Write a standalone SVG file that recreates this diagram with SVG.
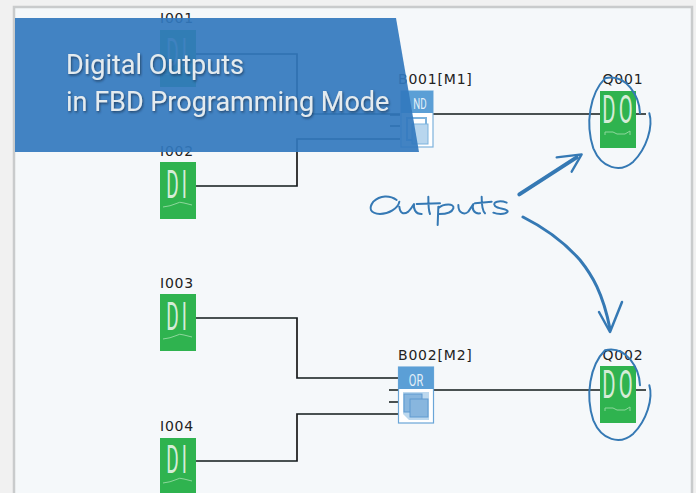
<svg xmlns="http://www.w3.org/2000/svg" width="696" height="493" viewBox="0 0 696 493">
<defs>
<filter id="sh" x="-5%" y="-20%" width="110%" height="140%"><feDropShadow dx="1" dy="1.5" stdDeviation="0.8" flood-color="#1c3350" flood-opacity="0.75"/></filter>
<filter id="soft" x="-5%" y="-5%" width="110%" height="110%"><feGaussianBlur stdDeviation="0.35"/></filter>
<g id="wave"><path d="M-14 45 q8 -1 12 -3 q5 -3 9 -1 q4 1 8 2" fill="none" stroke="#8ed79c" stroke-width="1"/></g>
<path id="loop" d="M840 160C838 110 800 40 735 55C690 100 675 190 700 265C725 325 780 340 820 305C860 265 880 200 868 160"/>
</defs>
<style>
.lbl{font-family:"DejaVu Sans",sans-serif;font-size:14px;letter-spacing:.8px;fill:#222;text-anchor:middle}
.big{font-family:"Roboto",sans-serif;font-weight:400;fill:#d6ecd8;text-anchor:middle;letter-spacing:6px}
.wire{fill:none;stroke:#14171a;stroke-width:1.7}
.green{fill:#2fb34f}
.ink{fill:none;stroke:#3579b4;stroke-linecap:round;stroke-linejoin:round}
.title{font-family:"Roboto",sans-serif;font-weight:400;font-size:27px;fill:#e4ebef}
.blk{fill:#5b9fd6}
</style>
<rect width="696" height="493" fill="#f1f1f1"/>
<rect x="14" y="7" width="678" height="490" fill="#f5f8fa" stroke="#c9cbcc" stroke-width="2.500"/>
<g id="connectors" filter="url(#soft)">
<path class="wire" d="M195 54H297V114H400"/>
<path class="wire" d="M195 186H297V139H400"/>
<path class="wire" d="M390 115H400M390 126H400"/>
<path class="wire" d="M433 114H600M636 114H646"/>
<path class="wire" d="M195 318H297V378H398"/>
<path class="wire" d="M195 461H297V414H398"/>
<path class="wire" d="M389 390H398M389 402H398"/>
<path class="wire" d="M433 390H600M636 390H646"/>
</g>
<g id="I001"><text class="lbl" x="177" y="23">I001</text><rect class="green" x="160" y="30" width="36" height="57"/><text class="big" transform="translate(178 66) scale(.5 1)" font-size="38">DI</text><use href="#wave" x="177" y="30"/></g>
<g id="I002"><text class="lbl" x="177" y="156">I002</text><rect class="green" x="160" y="162" width="36" height="57"/><text class="big" transform="translate(178 198) scale(.5 1)" font-size="38">DI</text><use href="#wave" x="177" y="162"/></g>
<g id="I003"><text class="lbl" x="177" y="288">I003</text><rect class="green" x="160" y="294" width="36" height="57"/><text class="big" transform="translate(178 330) scale(.5 1)" font-size="38">DI</text><use href="#wave" x="177" y="294"/></g>
<g id="I004"><text class="lbl" x="177" y="431">I004</text><rect class="green" x="160" y="438" width="36" height="57"/><text class="big" transform="translate(178 473) scale(.5 1)" font-size="38">DI</text><use href="#wave" x="177" y="438"/></g>
<g id="B001"><text class="lbl" style="text-anchor:start" x="398" y="84">B001[M1]</text><rect x="401" y="91" width="32" height="56" fill="#fff" stroke="#7db3dd" stroke-width="1.200"/><rect class="blk" x="401" y="91" width="32" height="22"/><text transform="translate(420 109) scale(.65 1)" font-family="Roboto,sans-serif" font-size="15" fill="#e3f0f8" text-anchor="middle">ND</text><rect x="407" y="118" width="19" height="22" fill="none" stroke="#7db3dd" stroke-width="2"/><rect x="412" y="124" width="16" height="20" fill="#b8d6ee" stroke="#7db3dd"/></g>
<g id="B002"><text class="lbl" style="text-anchor:start" x="398" y="360">B002[M2]</text><rect x="398.500" y="367" width="35" height="56" fill="#fff" stroke="#6aa6d8" stroke-width="1.200"/><rect class="blk" x="398.500" y="367" width="35" height="22"/><text transform="translate(416 386) scale(.65 1)" font-family="Roboto,sans-serif" font-size="17" fill="#e3f0f8" text-anchor="middle">OR</text><path d="M403 392h26v28h-20l-6-6z" fill="#bcd8ee"/><rect x="404" y="394" width="18" height="18" fill="#88b6de" stroke="#5f9ad0"/><rect x="410" y="399" width="18" height="18" fill="#88b6de" stroke="#5f9ad0"/></g>
<g id="Q001"><text class="lbl" x="623" y="84">Q001</text><rect class="green" x="600" y="91" width="36" height="57"/><text class="big" transform="translate(619 123) scale(.52 1)" font-size="39">DO</text><path d="M605 135v-3h8l4 2h8l5 -3v4" fill="none" stroke="#8ed79c"/></g>
<g id="Q002"><text class="lbl" x="623" y="360">Q002</text><rect class="green" x="600" y="366" width="36" height="57"/><text class="big" transform="translate(619 398) scale(.52 1)" font-size="39">DO</text><path d="M605 411v-3h8l4 2h8l5 -3v4" fill="none" stroke="#8ed79c"/></g>
<g id="annotations">
<g transform="translate(360 60) scale(.33333)">
<use href="#loop" class="ink" stroke-width="6"/>
<use href="#loop" class="ink" stroke-width="6" y="816"/>
<path class="ink" stroke-width="12" d="M478 403L650 292"/>
<path class="ink" stroke-width="7" d="M590 292L665 283L635 335"/>
<path class="ink" stroke-width="6" d="M110 420C90 405 60 405 40 425C25 445 30 460 60 462C85 462 115 445 118 425M118 440C120 460 130 465 145 455C155 445 160 435 162 432C160 445 165 462 185 462M205 410C205 430 205 450 210 462M170 432L240 430M235 440L233 495M235 445C250 430 285 430 280 445C275 460 250 462 238 462M295 435C295 462 315 465 325 455L340 432C335 445 340 462 360 460M365 410C365 430 365 450 375 460M345 430L395 425M440 428C420 420 395 425 405 438C415 448 445 445 443 455C435 465 410 462 400 458"/>
</g>
<path class="ink" stroke-width="3" d="M523 217C545 228 565 243 580 260C592 275 603 293 610 329"/>
<path class="ink" stroke-width="2.500" d="M599 312L610 332L622 302"/>
</g>
<g id="banner">
<path d="M15 18H396L419 152H15Z" fill="#3278be" fill-opacity=".92"/>
<text class="title" x="66" y="74" filter="url(#sh)">Digital Outputs</text>
<text class="title" x="66" y="111" filter="url(#sh)">in FBD Programming Mode</text>
</g>
</svg>
